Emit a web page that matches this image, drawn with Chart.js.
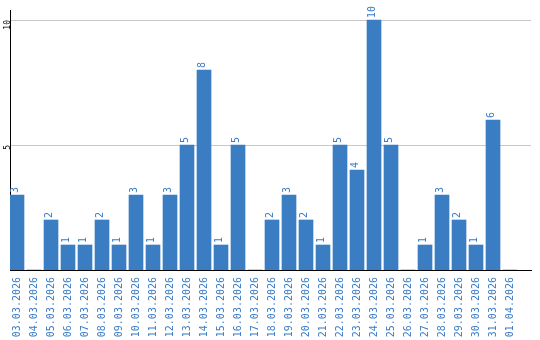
<!DOCTYPE html>
<html>
<head>
<meta charset="utf-8">
<script src="https://cdn.jsdelivr.net/npm/chart.js@4/dist/chart.umd.min.js"></script>
<style>
html,body{margin:0;padding:0;background:#fff;}
#c{display:block;}
</style>
</head>
<body>
<canvas id="c" width="540" height="340"></canvas>
<script>
const categories = ["03.03.2026","04.03.2026","05.03.2026","06.03.2026","07.03.2026","08.03.2026","09.03.2026","10.03.2026","11.03.2026","12.03.2026","13.03.2026","14.03.2026","15.03.2026","16.03.2026","17.03.2026","18.03.2026","19.03.2026","20.03.2026","21.03.2026","22.03.2026","23.03.2026","24.03.2026","25.03.2026","26.03.2026","27.03.2026","28.03.2026","29.03.2026","30.03.2026","31.03.2026","01.04.2026"];
const values = [3,0,2,1,1,2,1,3,1,3,5,8,1,5,0,2,3,2,1,5,4,10,5,0,1,3,2,1,6,0];
const yTicks = [5,10];

const BLUE = '#3b7dc2';
const TEXT_BLUE = '#3a7bc4';
const MONO = '"DejaVu Sans Mono", "Liberation Mono", monospace';

const valueLabels = {
  id: 'valueLabels',
  afterDatasetsDraw(chart) {
    const ctx = chart.ctx;
    const meta = chart.getDatasetMeta(0);
    ctx.save();
    ctx.fillStyle = TEXT_BLUE;
    ctx.font = '10px ' + MONO;
    meta.data.forEach((el, i) => {
      const v = values[i];
      if (!v) return;
      ctx.save();
      ctx.translate(el.x + 0.5, el.y - 2);
      ctx.rotate(-Math.PI / 2);
      ctx.textAlign = 'left';
      ctx.textBaseline = 'alphabetic';
      ctx.fillText(String(v), 0, 0);
      ctx.restore();
    });
    ctx.restore();
  }
};

new Chart(document.getElementById('c'), {
  type: 'bar',
  data: {
    datasets: [{
      data: values.map((v, i) => ({x: i, y: v})),
      backgroundColor: BLUE,
      borderWidth: 0,
      barThickness: 14
    }]
  },
  options: {
    responsive: false,
    animation: false,
    devicePixelRatio: 1,
    layout: {padding: {top: 10, right: 9, left: 0, bottom: 0}},
    plugins: {legend: {display: false}, tooltip: {enabled: false}},
    scales: {
      x: {
        type: 'linear',
        position: 'bottom',
        offset: false,
        min: -0.4118,
        max: 30.235,
        afterBuildTicks: s => { s.ticks = categories.map((_, i) => ({value: i})); },
        afterFit: s => { s.height = 70; },
        grid: {display: false, drawTicks: false, offset: false},
        border: {display: true, color: '#000', width: 1},
        ticks: {
          autoSkip: false,
          minRotation: 90,
          maxRotation: 90,
          padding: 7,
          color: TEXT_BLUE,
          font: {family: MONO, size: 10},
          callback: v => categories[v] ?? ''
        }
      },
      y: {
        min: 0,
        max: 10.4,
        afterBuildTicks: s => { s.ticks = yTicks.map(v => ({value: v})); },
        afterFit: s => { s.width = 10; },
        grid: {color: '#c8c8c8', lineWidth: 1, drawTicks: false},
        border: {display: true, color: '#000', width: 1},
        ticks: {
          minRotation: 90,
          maxRotation: 90,
          padding: 2,
          color: '#000',
          font: {family: MONO, size: 8},
          callback: v => String(v)
        }
      }
    }
  },
  plugins: [valueLabels]
});
</script>
</body>
</html>
